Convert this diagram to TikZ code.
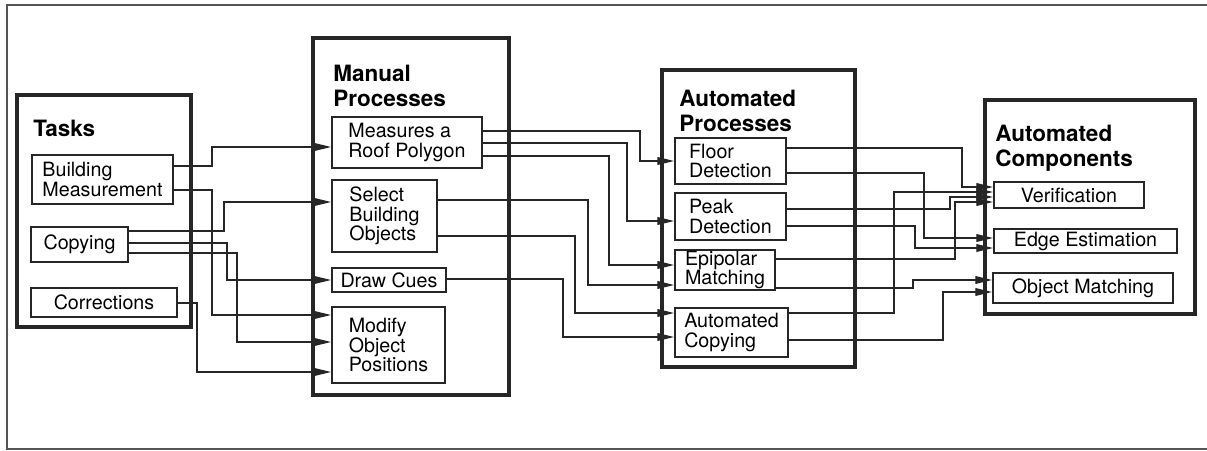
\documentclass[tikz,border=0pt]{standalone}
\usepackage{fontspec}
\setmainfont{TeX Gyre Heros}
\usepackage{xcolor}
\usepackage{tikz}
\usetikzlibrary{arrows.meta, fit}

\definecolor{ink}{HTML}{262626}
\definecolor{frame}{HTML}{555555}

\begin{document}
\begin{tikzpicture}[x=0.025cm, y=-0.025cm, >={Triangle[length=12pt,width=5.5pt]},
    group/.style={draw=ink, line width=2.4pt, inner sep=0pt},
    item/.style={draw=ink, line width=1.2pt, inner sep=0pt, align=left,
        font=\fontsize{14}{14}\selectfont},
    heading/.style={anchor=north west, inner sep=0pt, align=left,
        font=\fontsize{16}{17.5}\selectfont\bfseries},
    link/.style={->, draw=ink, line width=1pt}]
    % Khung ngoài và kích thước của hình
    \useasboundingbox (0,0) rectangle (1207,451);
    \draw[frame, line width=1.2pt] (1207,5) -- (7,5) -- (7,449) -- (1207,449);

    % Bốn nhóm lớn và tiêu đề của chúng
    \node[group, fit={(17,95) (191,327)}] (tasks) {};
    \node[group, fit={(313,38) (509,395)}] (manual) {};
    \node[group, fit={(662,70) (855,367)}] (autoproc) {};
    \node[group, fit={(985,100) (1195,314)}] (autocomp) {};
    \node[heading] (taskstitle) at (33,120) {Tasks};
    \node[heading] (manualtitle) at (333,65) {Manual\\Processes};
    \node[heading] (autoproctitle) at (679,90) {Automated\\Processes};
    \node[heading] (autocomptitle) at (995,125) {Automated\\Components};

    % Các ô trong nhóm Tasks
    \node[item, minimum width=3.525cm, minimum height=1.225cm] (bm) at (102.5,179.5) {Building\\Measurement};
    \node[item, minimum width=2.425cm, minimum height=0.875cm] (cp) at (79.5,244.5) {Copying};
    \node[item, minimum width=3.65cm, minimum height=0.725cm] (cr) at (104,302.5) {Corrections};

    % Các ô trong nhóm Manual Processes
    \node[item, minimum width=3.75cm, minimum height=1.275cm] (mr) at (407,142.5) {Measures a\\Roof Polygon};
    \node[item, minimum width=2.625cm, minimum height=1.8cm] (sb) at (384.5,216) {Select\\Building\\Objects};
    \node[item, minimum width=2.85cm, minimum height=0.6cm] (dc) at (389,280) {Draw Cues};
    \node[item, minimum width=2.825cm, minimum height=1.9cm] (mo) at (388.5,345) {Modify\\Object\\Positions};

    % Các ô trong nhóm Automated Processes
    \node[item, minimum width=2.775cm, minimum height=1.15cm] (fd) at (730.5,161) {Floor\\Detection};
    \node[item, minimum width=2.775cm, minimum height=1.175cm] (pd) at (730.5,216.5) {Peak\\Detection};
    \node[item, minimum width=2.5cm, minimum height=1.0cm] (em) at (725,270) {Epipolar\\Matching};
    \node[item, minimum width=2.825cm, minimum height=1.225cm] (ac) at (731.5,332.5) {Automated\\Copying};

    % Các ô trong nhóm Automated Components
    \node[item, minimum width=3.75cm, minimum height=0.65cm] (ve) at (1069,195) {Verification};
    \node[item, minimum width=4.575cm, minimum height=0.6cm] (ee) at (1085.5,241) {Edge Estimation};
    \node[item, minimum width=4.5cm, minimum height=0.75cm] (om) at (1083,288) {Object Matching};

    % Tasks -> Manual Processes
    \draw[link] (bm.east |- 0,166) -- (212,166) |- (mr.west |- 0,147);
    \draw[link] (bm.east |- 0,190) -- (212,190) |- (mo.west |- 0,315);
    \draw[link] (cp.east |- 0,231) -- (224,231) |- (sb.west |- 0,202);
    \draw[link] (cp.east |- 0,243) -- (227,243) |- (dc.west |- 0,280);
    \draw[link] (cp.east |- 0,253) -- (237,253) |- (mo.west |- 0,342);
    \draw[link] (cr.east |- 0,303) -- (197,303) |- (mo.west |- 0,372);

    % Manual Processes -> Automated Processes
    \draw[link] (mr.east |- 0,131) -- (640,131) |- (fd.west |- 0,161);
    \draw[link] (mr.east |- 0,143) -- (627,143) |- (pd.west |- 0,221);
    \draw[link] (mr.east |- 0,156) -- (609,156) |- (em.west |- 0,265);
    \draw[link] (sb.east |- 0,200) -- (588,200) |- (em.west |- 0,285);
    \draw[link] (sb.east |- 0,236) -- (575,236) |- (ac.west |- 0,313);
    \draw[link] (dc.east |- 0,279) -- (563,279) |- (ac.west |- 0,337);

    % Automated Processes -> Automated Components
    \draw[link] (fd.east |- 0,148) -- (962,148) |- (ve.west |- 0,187);
    \draw[link] (fd.east |- 0,173) -- (924,173) |- (ee.west |- 0,238);
    \draw[link] (pd.east |- 0,209) -- (950,209) |- (ve.west |- 0,197);
    \draw[link] (pd.east |- 0,226) -- (915,226) |- (ee.west |- 0,248);
    \draw[link] (em.east |- 0,259) -- (955,259) |- (ve.west |- 0,202);
    \draw[link] (em.east |- 0,288) -- (913,288) |- (om.west |- 0,280);
    \draw[link] (ac.east |- 0,313) -- (894,313) |- (ve.west |- 0,192);
    \draw[link] (ac.east |- 0,340) -- (943,340) |- (om.west |- 0,292);
\end{tikzpicture}
\end{document}
